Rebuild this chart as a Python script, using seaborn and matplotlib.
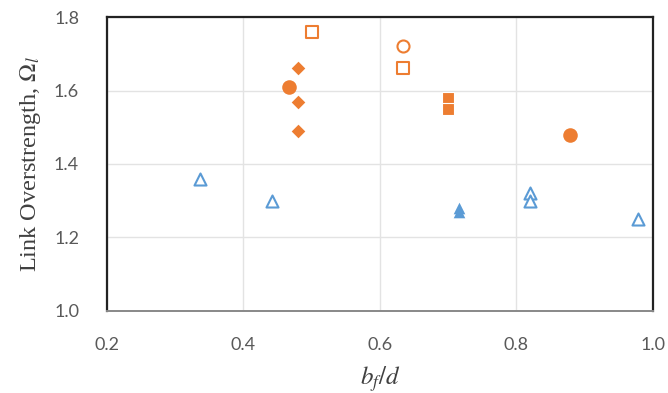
import matplotlib
matplotlib.use("Agg")
import matplotlib.pyplot as plt
import seaborn as sns
import pandas as pd

# Link overstrength vs. flange width-to-depth ratio, grouped by specimen series
diamond_x = [0.48, 0.48, 0.48]
diamond_y = [1.66, 1.57, 1.49]
circle_x = [0.467, 0.878]
circle_y = [1.61, 1.48]
square_x = [0.70, 0.70]
square_y = [1.58, 1.55]
open_square_x = [0.50, 0.634]
open_square_y = [1.76, 1.66]
open_circle_x = [0.634]
open_circle_y = [1.72]
open_tri_x = [0.336, 0.442, 0.82, 0.82, 0.978]
open_tri_y = [1.36, 1.30, 1.32, 1.30, 1.25]
tri_x = [0.716, 0.716]
tri_y = [1.28, 1.27]

x_ticks = [0.2, 0.4, 0.6, 0.8, 1.0]
y_ticks = [1.0, 1.2, 1.4, 1.6, 1.8]

ORANGE = "#ED7D31"
BLUE = "#5B9BD5"

sns.set_theme(style="white")
plt.rcParams["font.family"] = ["Lato", "DejaVu Sans"]
plt.rcParams["mathtext.fontset"] = "stix"

fig = plt.figure(figsize=(6.68, 3.93), dpi=100)
ax = fig.add_axes([0.160, 0.2087, 0.8175, 0.748])

series = [
    (diamond_x, diamond_y, "D", 48, ORANGE, ORANGE, 0),
    (circle_x, circle_y, "o", 110, ORANGE, ORANGE, 0),
    (square_x, square_y, "s", 80, ORANGE, "white", 0.8),
    (open_square_x, open_square_y, "s", 80, "white", ORANGE, 1.5),
    (open_circle_x, open_circle_y, "o", 75, "white", ORANGE, 1.5),
    (open_tri_x, open_tri_y, "^", 75, "white", BLUE, 1.5),
    (tri_x, tri_y, "^", 70, BLUE, BLUE, 0),
]
for xs, ys, mk, sz, fc, ec, lw in series:
    df = pd.DataFrame({"x": xs, "y": ys})
    sns.scatterplot(data=df, x="x", y="y", marker=mk, s=sz, color=fc,
                    edgecolor=ec, linewidth=lw, ax=ax, zorder=3)

ax.set_xlim(0.2, 1.0)
ax.set_ylim(1.0, 1.8)
ax.set_xticks(x_ticks)
ax.set_yticks(y_ticks)
ax.set_xticklabels([f"{v:.1f}" for v in x_ticks])
ax.set_yticklabels([f"{v:.1f}" for v in y_ticks])
ax.grid(True, color="#E3E3E3", linewidth=1.0)
ax.set_axisbelow(True)
ax.tick_params(axis="both", length=0, labelsize=13, labelcolor="#595959")
ax.tick_params(axis="x", pad=19)
ax.tick_params(axis="y", pad=20)
for side in ["top", "right", "left"]:
    ax.spines[side].set_color("#222222")
    ax.spines[side].set_linewidth(1.6)
ax.spines["bottom"].set_color("#888888")
ax.spines["bottom"].set_linewidth(1.4)

ax.set_xlabel(r"$b_f/d$", fontsize=18, color="#404040", labelpad=8,
              family="Liberation Serif")
ax.set_ylabel(r"Link Overstrength, $\Omega_l$", fontsize=17.5, color="#404040",
              labelpad=8, family="Liberation Serif")

fig.savefig("out.png", dpi=100)
